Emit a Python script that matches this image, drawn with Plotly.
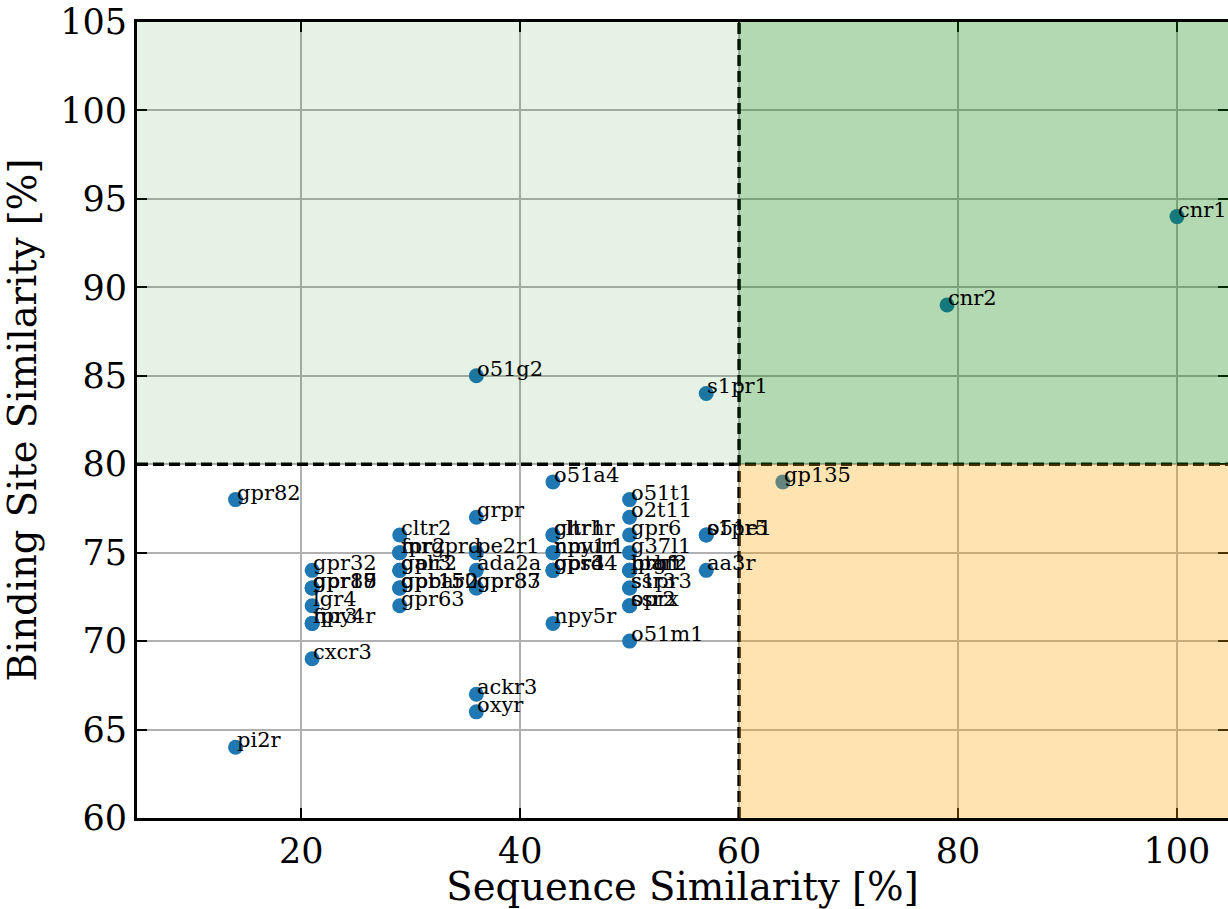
import plotly.graph_objects as go

labels = ["cnr1", "cnr2", "gp135", "s1pr1", "o51g2", "gpr82", "pi2r",
          "gpr32", "gpr18", "gpr87", "gpr19", "lgr4", "fpr3", "npy4r", "cxcr3",
          "cltr2", "fpr2", "mrgprd", "galr2", "gpr3", "gpbar", "gpr150", "gpr152", "gpr63",
          "grpr", "pe2r1", "ada2a", "gpr83", "gpr37", "ackr3", "oxyr",
          "o51a4", "ghrhr", "cltr1", "npy1r", "nmur1", "gpr4", "opsd", "gpr34", "npy5r",
          "o51t1", "o2t11", "gpr6", "g37l1", "lpar2", "ptgfr", "hrh1", "ssr3", "s1pr3",
          "oprx", "ssr2", "o51m1",
          "o51e1", "s1pr5", "aa3r"]
seq_sim = [100, 79, 64, 57, 36, 14, 14,
           21, 21, 21, 21, 21, 21, 21, 21,
           29, 29, 29, 29, 29, 29, 29, 29, 29,
           36, 36, 36, 36, 36, 36, 36,
           43, 43, 43, 43, 43, 43, 43, 43, 43,
           50, 50, 50, 50, 50, 50, 50, 50, 50,
           50, 50, 50,
           57, 57, 57]
bind_sim = [94, 89, 79, 84, 85, 78, 64,
            74, 73, 73, 73, 72, 71, 71, 69,
            76, 75, 75, 74, 74, 73, 73, 73, 72,
            77, 75, 74, 73, 73, 67, 66,
            79, 76, 76, 75, 75, 74, 74, 74, 71,
            78, 77, 76, 75, 74, 74, 74, 73, 73,
            72, 72, 70,
            76, 76, 74]

x_ticks = [20, 40, 60, 80, 100]
y_ticks = [60, 65, 70, 75, 80, 85, 90, 95, 100, 105]
x_range = [5, 104.66]
y_range = [60, 105]
seq_thr = 60
bind_thr = 80

FONT = "DejaVu Serif"

fig = go.Figure()
fig.add_trace(go.Scatter(
    x=seq_sim, y=bind_sim, mode="markers",
    marker=dict(color="#1f77b4", size=15, line=dict(width=0)),
    showlegend=False, hoverinfo="skip"))
# invisible trace for right-side ticks
fig.add_trace(go.Scatter(x=[x_range[0]], y=[y_range[0]], yaxis="y2",
                         mode="markers", marker=dict(opacity=0),
                         showlegend=False, hoverinfo="skip"))

for lab, xv, yv in zip(labels, seq_sim, bind_sim):
    fig.add_annotation(x=xv, y=yv, xref="x", yref="y", text=lab,
                       showarrow=False, xanchor="left", yanchor="bottom",
                       yshift=-7, xshift=-1,
                       font=dict(family=FONT, size=21, color="black"))

dash = "11px,5px"
shapes = [
    dict(type="line", xref="x", yref="y", x0=seq_thr, x1=seq_thr, y0=y_range[0], y1=y_range[1],
         line=dict(color="black", width=3.5, dash=dash), layer="above"),
    dict(type="line", xref="x", yref="y", x0=x_range[0], x1=105, y0=bind_thr, y1=bind_thr,
         line=dict(color="black", width=3.5, dash=dash), layer="above"),
    dict(type="rect", xref="x", yref="y", x0=x_range[0], x1=seq_thr, y0=bind_thr, y1=y_range[1],
         fillcolor="rgba(0,128,0,0.1)", line=dict(width=0), layer="above"),
    dict(type="rect", xref="x", yref="y", x0=seq_thr, x1=105, y0=bind_thr, y1=y_range[1],
         fillcolor="rgba(0,128,0,0.3)", line=dict(width=0), layer="above"),
    dict(type="rect", xref="x", yref="y", x0=seq_thr, x1=105, y0=y_range[0], y1=bind_thr,
         fillcolor="rgba(255,165,0,0.3)", line=dict(width=0), layer="above"),
]

fig.update_layout(
    width=1228, height=909,
    margin=dict(l=137, r=0, t=22, b=91),
    paper_bgcolor="white", plot_bgcolor="white",
    font=dict(family=FONT, color="black"),
    shapes=shapes,
    xaxis=dict(range=x_range, tickvals=x_ticks, ticks="inside", ticklen=10, tickwidth=2,
               tickcolor="black", showline=True, linecolor="black", linewidth=2.8,
               mirror="ticks", showgrid=True, gridcolor="#b0b0b0", gridwidth=1.5,
               zeroline=False, tickfont=dict(family=FONT, size=35),
               title=dict(text="Sequence Similarity [%]", font=dict(family=FONT, size=38.5),
                          standoff=10)),
    yaxis=dict(range=y_range, tickvals=y_ticks, ticks="inside", ticklen=10, tickwidth=2,
               tickcolor="black", showline=True, linecolor="black", linewidth=2.8,
               showgrid=True, gridcolor="#b0b0b0", gridwidth=1.5,
               zeroline=False, tickfont=dict(family=FONT, size=35),
               title=dict(text="Binding Site Similarity [%]", font=dict(family=FONT, size=38.5),
                          standoff=16)),
    yaxis2=dict(range=y_range, tickvals=y_ticks, overlaying="y", side="right",
                ticks="inside", ticklen=10, tickwidth=2, tickcolor="black",
                showline=False, showgrid=False, zeroline=False, showticklabels=False),
)

fig.write_html("out.html")
